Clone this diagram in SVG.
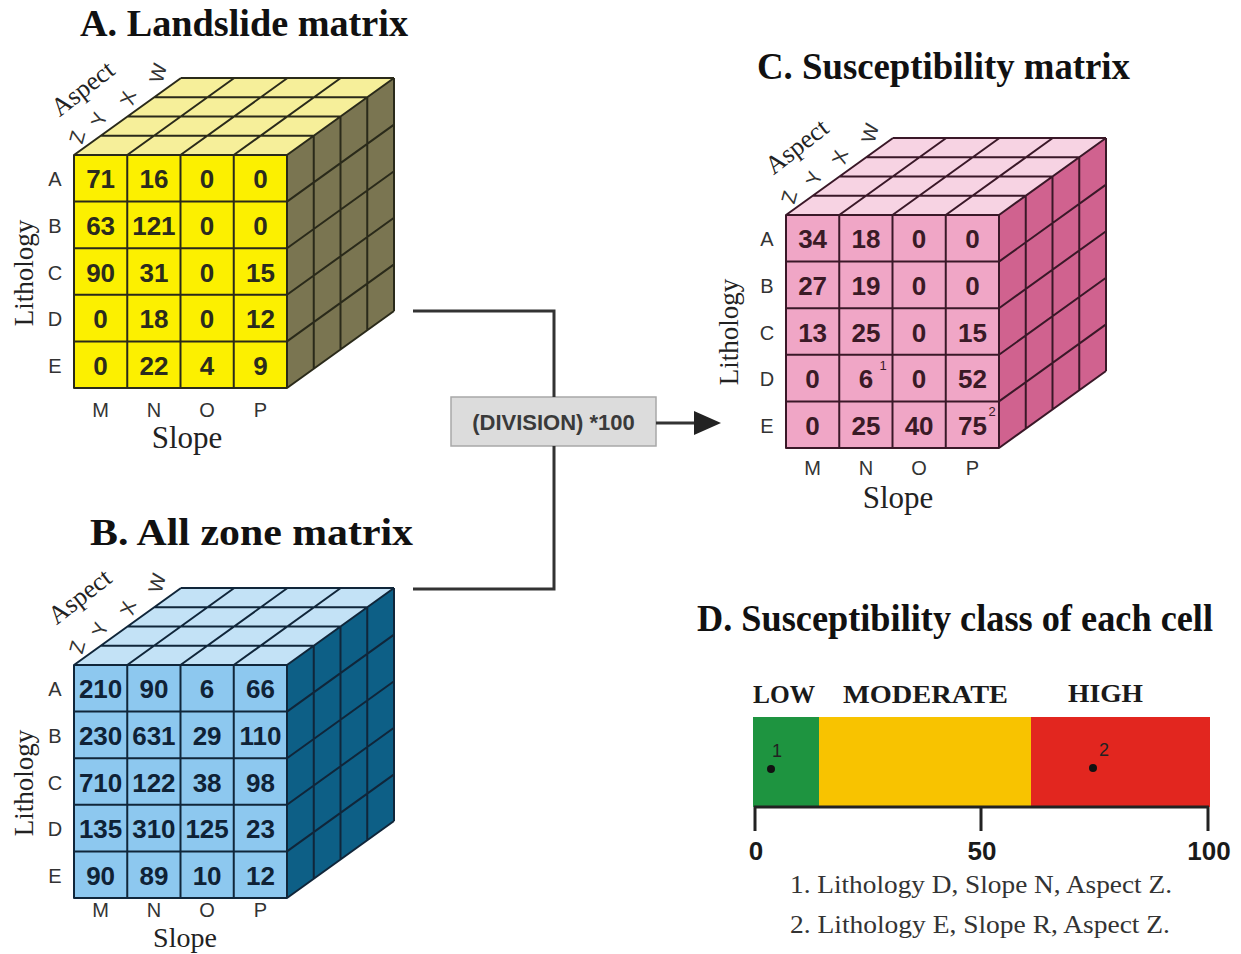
<svg xmlns="http://www.w3.org/2000/svg" width="1241" height="954" viewBox="0 0 1241 954">
<style>
.t{font-family:"Liberation Serif","Times New Roman",serif;font-weight:bold;font-size:37px;fill:#111}
.lab{font-family:"Liberation Serif","Times New Roman",serif;fill:#222;text-anchor:middle}
.sm{font-family:"Liberation Sans",Arial,sans-serif;font-size:20px;fill:#333;text-anchor:middle}
.asp{font-family:"Liberation Sans",Arial,sans-serif;font-size:20px;fill:#333;text-anchor:middle}
.n{font-family:"Liberation Sans",Arial,sans-serif;font-weight:bold;font-size:26px;text-anchor:middle}
.sup{font-family:"Liberation Sans",Arial,sans-serif;font-size:13px;text-anchor:middle}
.lnA{stroke:#2a2a1a}.lnB{stroke:#10263a}.lnC{stroke:#3a1828}
.conn{fill:none;stroke:#333;stroke-width:3}
</style>
<defs>
<path id="grid" fill="none" stroke-width="2" stroke-linejoin="round" d="M0 0H213V233H0Z M53.25 0V233 M106.5 0V233 M159.75 0V233 M0 46.6H213 M0 93.2H213 M0 139.8H213 M0 186.4H213 M26.75 -19.25H239.75 M53.5 -38.5H266.5 M80.25 -57.75H293.25 M107 -77H320 M0 0l107 -77 M53.25 0l107 -77 M106.5 0l107 -77 M159.75 0l107 -77 M213 0l107 -77 M239.75 -19.25v233 M266.5 -38.5v233 M293.25 -57.75v233 M320 -77v233 M213 46.6l107 -77 M213 93.2l107 -77 M213 139.8l107 -77 M213 186.4l107 -77 M213 233l107 -77"/>
<marker id="arr" markerWidth="10" markerHeight="8" refX="1" refY="4" orient="auto" markerUnits="strokeWidth"><path d="M0 0L9 4L0 8Z" fill="#222"/></marker>
</defs>
<rect width="1241" height="954" fill="#fff"/>

<g id="nodeA">
<text class="t" x="80" y="36" textLength="328" lengthAdjust="spacingAndGlyphs">A. Landslide matrix</text>
<g transform="translate(74,155)">
<polygon points="0,0 213,0 320,-77 107,-77" fill="#f6ef9a"/>
<polygon points="213,0 320,-77 320,156 213,233" fill="#7a7551"/>
<rect width="213" height="233" fill="#fcf000"/>
<use href="#grid" class="lnA"/>
<g class="n" fill="#2b2b1e">
<text y="33.3"><tspan x="26.6">71</tspan><tspan x="79.9">16</tspan><tspan x="133.1">0</tspan><tspan x="186.4">0</tspan></text>
<text y="79.9"><tspan x="26.6">63</tspan><tspan x="79.9">121</tspan><tspan x="133.1">0</tspan><tspan x="186.4">0</tspan></text>
<text y="126.5"><tspan x="26.6">90</tspan><tspan x="79.9">31</tspan><tspan x="133.1">0</tspan><tspan x="186.4">15</tspan></text>
<text y="173.1"><tspan x="26.6">0</tspan><tspan x="79.9">18</tspan><tspan x="133.1">0</tspan><tspan x="186.4">12</tspan></text>
<text y="219.7"><tspan x="26.6">0</tspan><tspan x="79.9">22</tspan><tspan x="133.1">4</tspan><tspan x="186.4">9</tspan></text>
</g>
<text class="sm" x="-19" y="31.3">A</text><text class="sm" x="-19" y="77.9">B</text><text class="sm" x="-19" y="124.5">C</text><text class="sm" x="-19" y="171.1">D</text><text class="sm" x="-19" y="217.7">E</text>
<text class="sm" y="262"><tspan x="26.6">M</tspan><tspan x="79.9">N</tspan><tspan x="133.1">O</tspan><tspan x="186.4">P</tspan></text>
<text class="lab" font-size="31" x="113" y="293">Slope</text>
<text class="lab" font-size="27" transform="translate(-41,118) rotate(-90)">Lithology</text>
<text class="lab" font-size="26" transform="translate(9,-66) rotate(-38)" y="8">Aspect</text>
<text class="asp" transform="translate(3,-18) rotate(-75)" y="7">Z</text>
<text class="asp" transform="translate(25,-36) rotate(-75)" y="7">Y</text>
<text class="asp" transform="translate(54,-57) rotate(-75)" y="7">X</text>
<text class="asp" transform="translate(84,-82) rotate(-75)" y="7">W</text>
</g>
</g>

<g id="nodeB">
<text class="t" x="90" y="545" textLength="323" lengthAdjust="spacingAndGlyphs">B. All zone matrix</text>
<g transform="translate(74,665)">
<polygon points="0,0 213,0 320,-77 107,-77" fill="#c3e2f6"/>
<polygon points="213,0 320,-77 320,156 213,233" fill="#0d5f86"/>
<rect width="213" height="233" fill="#8dc8ef"/>
<use href="#grid" class="lnB"/>
<g class="n" fill="#0f2236">
<text y="33.3"><tspan x="26.6">210</tspan><tspan x="79.9">90</tspan><tspan x="133.1">6</tspan><tspan x="186.4">66</tspan></text>
<text y="79.9"><tspan x="26.6">230</tspan><tspan x="79.9">631</tspan><tspan x="133.1">29</tspan><tspan x="186.4">110</tspan></text>
<text y="126.5"><tspan x="26.6">710</tspan><tspan x="79.9">122</tspan><tspan x="133.1">38</tspan><tspan x="186.4">98</tspan></text>
<text y="173.1"><tspan x="26.6">135</tspan><tspan x="79.9">310</tspan><tspan x="133.1">125</tspan><tspan x="186.4">23</tspan></text>
<text y="219.7"><tspan x="26.6">90</tspan><tspan x="79.9">89</tspan><tspan x="133.1">10</tspan><tspan x="186.4">12</tspan></text>
</g>
<text class="sm" x="-19" y="31.3">A</text><text class="sm" x="-19" y="77.9">B</text><text class="sm" x="-19" y="124.5">C</text><text class="sm" x="-19" y="171.1">D</text><text class="sm" x="-19" y="217.7">E</text>
<text class="sm" y="252"><tspan x="26.6">M</tspan><tspan x="79.9">N</tspan><tspan x="133.1">O</tspan><tspan x="186.4">P</tspan></text>
<text class="lab" font-size="28" x="111" y="282">Slope</text>
<text class="lab" font-size="27" transform="translate(-41,118) rotate(-90)">Lithology</text>
<text class="lab" font-size="26" transform="translate(6,-68) rotate(-38)" y="8">Aspect</text>
<text class="asp" transform="translate(3,-18) rotate(-75)" y="7">Z</text>
<text class="asp" transform="translate(26,-36) rotate(-75)" y="7">Y</text>
<text class="asp" transform="translate(54,-57) rotate(-75)" y="7">X</text>
<text class="asp" transform="translate(83,-82) rotate(-75)" y="7">W</text>
</g>
</g>

<g id="nodeOp">
<rect x="451" y="397" width="205" height="49" fill="#dcdcdc" stroke="#a8a8a8" stroke-width="1.5"/>
<text x="553.5" y="430" font-family="'Liberation Sans',Arial,sans-serif" font-weight="bold" font-size="22" fill="#3a3a3a" text-anchor="middle">(DIVISION) *100</text>
</g>

<g id="nodeC">
<text class="t" x="757" y="79" textLength="373" lengthAdjust="spacingAndGlyphs">C. Susceptibility matrix</text>
<g transform="translate(786,215)">
<polygon points="0,0 213,0 320,-77 107,-77" fill="#f7d3e3"/>
<polygon points="213,0 320,-77 320,156 213,233" fill="#d0628f"/>
<rect width="213" height="233" fill="#f0a6c6"/>
<use href="#grid" class="lnC"/>
<g class="n" fill="#3a1a26">
<text y="33.3"><tspan x="26.6">34</tspan><tspan x="79.9">18</tspan><tspan x="133.1">0</tspan><tspan x="186.4">0</tspan></text>
<text y="79.9"><tspan x="26.6">27</tspan><tspan x="79.9">19</tspan><tspan x="133.1">0</tspan><tspan x="186.4">0</tspan></text>
<text y="126.5"><tspan x="26.6">13</tspan><tspan x="79.9">25</tspan><tspan x="133.1">0</tspan><tspan x="186.4">15</tspan></text>
<text y="173.1"><tspan x="26.6">0</tspan><tspan x="79.9">6</tspan><tspan x="133.1">0</tspan><tspan x="186.4">52</tspan></text>
<text y="219.7"><tspan x="26.6">0</tspan><tspan x="79.9">25</tspan><tspan x="133.1">40</tspan><tspan x="186.4">75</tspan></text>
</g>
<text class="sup" fill="#3a1a26" x="97" y="155">1</text>
<text class="sup" fill="#3a1a26" x="206" y="201">2</text>
<text class="sm" x="-19" y="31.3">A</text><text class="sm" x="-19" y="77.9">B</text><text class="sm" x="-19" y="124.5">C</text><text class="sm" x="-19" y="171.1">D</text><text class="sm" x="-19" y="217.7">E</text>
<text class="sm" y="260"><tspan x="26.6">M</tspan><tspan x="79.9">N</tspan><tspan x="133.1">O</tspan><tspan x="186.4">P</tspan></text>
<text class="lab" font-size="31" x="112" y="293">Slope</text>
<text class="lab" font-size="27" transform="translate(-48,117) rotate(-90)">Lithology</text>
<text class="lab" font-size="26" transform="translate(11,-68) rotate(-38)" y="8">Aspect</text>
<text class="asp" transform="translate(3,-18) rotate(-75)" y="7">Z</text>
<text class="asp" transform="translate(28,-37) rotate(-75)" y="7">Y</text>
<text class="asp" transform="translate(54,-58) rotate(-75)" y="7">X</text>
<text class="asp" transform="translate(84,-82) rotate(-75)" y="7">W</text>
</g>
</g>

<g id="connectors">
<path class="conn" d="M413 311H554V397"/>
<path class="conn" d="M554 446V589H413"/>
<path class="conn" d="M656 423H697" marker-end="url(#arr)"/>
</g>

<g id="nodeD">
<text class="t" x="697" y="631" textLength="516" lengthAdjust="spacingAndGlyphs">D. Susceptibility class of each cell</text>
<g font-family="'Liberation Serif','Times New Roman',serif" font-weight="bold" font-size="25" fill="#1a1a1a">
<text x="753" y="703" textLength="62" lengthAdjust="spacingAndGlyphs">LOW</text>
<text x="843" y="703" textLength="165" lengthAdjust="spacingAndGlyphs">MODERATE</text>
<text x="1068" y="702" textLength="75" lengthAdjust="spacingAndGlyphs">HIGH</text>
</g>
<rect x="753" y="717" width="66" height="90" fill="#1e9440"/>
<rect x="819" y="717" width="212" height="90" fill="#f8c300"/>
<rect x="1031" y="717" width="179" height="90" fill="#e2261f"/>
<circle cx="771" cy="769" r="4" fill="#111"/>
<circle cx="1093" cy="768" r="4" fill="#111"/>
<text x="777" y="757" font-family="'Liberation Sans',Arial,sans-serif" font-size="18" fill="#222" text-anchor="middle">1</text>
<text x="1104" y="756" font-family="'Liberation Sans',Arial,sans-serif" font-size="18" fill="#222" text-anchor="middle">2</text>
<path d="M754 807H1209M755 807V831M981 807V831M1208 807V831" fill="none" stroke="#222" stroke-width="3"/>
<g font-family="'Liberation Sans',Arial,sans-serif" font-weight="bold" font-size="26" fill="#1a1a1a" text-anchor="middle">
<text x="756" y="860">0</text>
<text x="982" y="860">50</text>
<text x="1209" y="860">100</text>
</g>
<g font-family="'Liberation Serif','Times New Roman',serif" font-size="26" fill="#333">
<text x="790" y="893" textLength="382" lengthAdjust="spacingAndGlyphs">1. Lithology D, Slope N, Aspect Z.</text>
<text x="790" y="933" textLength="380" lengthAdjust="spacingAndGlyphs">2. Lithology E, Slope R, Aspect Z.</text>
</g>
</g>
</svg>
